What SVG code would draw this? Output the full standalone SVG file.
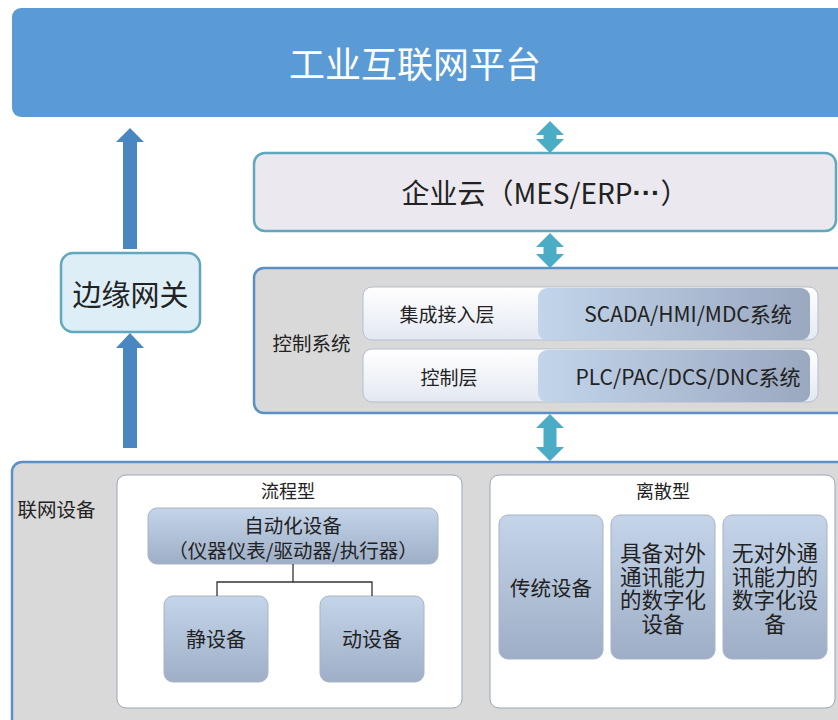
<svg xmlns="http://www.w3.org/2000/svg" width="838" height="720" viewBox="0 0 838 720">
<defs>
<linearGradient id="gBox" x1="0" y1="0" x2="0" y2="1">
<stop offset="0" stop-color="#c4d5ea"/>
<stop offset="1" stop-color="#9eaec6"/>
</linearGradient>
<linearGradient id="gRow" x1="0" y1="0" x2="0" y2="1">
<stop offset="0" stop-color="#ffffff"/>
<stop offset="1" stop-color="#e3e8f1"/>
</linearGradient>
<linearGradient id="gRight" x1="0" y1="0" x2="1" y2="0">
<stop offset="0" stop-color="#c2d5eb"/>
<stop offset="1" stop-color="#9aa8c0"/>
</linearGradient>
<style>
text{font-family:"Noto Sans CJK SC","Microsoft YaHei","Liberation Sans",sans-serif;fill:#222;text-anchor:middle;dominant-baseline:central}
.dev{fill:url(#gBox);stroke:#a9b4c4;stroke-width:1}
.panel{fill:#ffffff;stroke:#9aa7b8;stroke-width:1}
.group{fill:#d9d9d9;stroke:#5b8fc5;stroke-width:2.5}
.row{fill:url(#gRow);stroke:#b5bfcd;stroke-width:1}
.rpart{fill:url(#gRight)}
.bi{fill:#4bacc6}
.up{fill:#4a86c0}
</style>
</defs>

<g id="platform">
<rect x="12" y="8" width="840" height="109" rx="9" fill="#5b9bd5"/>
<text x="415" y="62" font-size="36" style="fill:#ffffff">工业互联网平台</text>
</g>

<g id="edge-gateway">
<rect x="61" y="253" width="139" height="79" rx="12" fill="#ddeef6" stroke="#5fa8bd" stroke-width="2.5"/>
<text x="130.5" y="293" font-size="29">边缘网关</text>
</g>

<g id="enterprise-cloud">
<rect x="254" y="153" width="582" height="78" rx="11" fill="#ebe9ef" stroke="#5fa8bd" stroke-width="2.5"/>
<text x="545" y="192" font-size="28">企业云（MES/ERP<tspan font-family="Liberation Sans" font-weight="bold">···</tspan>）</text>
</g>

<g id="control-system">
<rect x="254" y="268" width="600" height="145" rx="10" class="group"/>
<text x="311.5" y="342" font-size="19.5">控制系统</text>
<g id="integration-layer">
<rect x="363" y="287" width="455" height="53" rx="9" class="row"/>
<rect x="538" y="288" width="272" height="52" rx="9" class="rpart"/>
<text x="447" y="313" font-size="19">集成接入层</text>
<text x="688" y="313" font-size="21">SCADA/HMI/MDC系统</text>
</g>
<g id="control-layer">
<rect x="363" y="349" width="455" height="53" rx="9" class="row"/>
<rect x="538" y="350" width="272" height="52" rx="9" class="rpart"/>
<text x="449" y="376" font-size="19">控制层</text>
<text x="688" y="376" font-size="21">PLC/PAC/DCS/DNC系统</text>
</g>
</g>

<g id="networked-devices">
<rect x="12" y="462" width="840" height="270" rx="10" class="group"/>
<text x="56.5" y="508" font-size="19.5">联网设备</text>
</g>

<g id="process-type">
<rect x="117" y="475" width="345" height="233" rx="9" class="panel"/>
<text x="288" y="490" font-size="18">流程型</text>
</g>
<g id="automation">
<rect x="148" y="508" width="290" height="56" rx="9" class="dev"/>
<text x="293" y="524" font-size="19.5">自动化设备<tspan x="293" dy="25">（仪器仪表/驱动器/执行器）</tspan></text>
</g>
<g id="static-device">
<rect x="164" y="596" width="104" height="86" rx="9" class="dev"/>
<text x="216" y="638" font-size="20">静设备</text>
</g>
<g id="dynamic-device">
<rect x="320" y="596" width="104" height="86" rx="9" class="dev"/>
<text x="372" y="638" font-size="20">动设备</text>
</g>

<g id="discrete-type">
<rect x="490" y="475" width="345" height="233" rx="9" class="panel"/>
<text x="663" y="490" font-size="18">离散型</text>
</g>
<g id="traditional">
<rect x="499" y="515" width="104" height="144" rx="9" class="dev"/>
<text x="551" y="587" font-size="20.5">传统设备</text>
</g>
<g id="digital-comm">
<rect x="611" y="515" width="104" height="144" rx="9" class="dev"/>
<text x="663" y="551" font-size="21.5">具备对外<tspan x="663" dy="23.7">通讯能力</tspan><tspan x="663" dy="23.7">的数字化</tspan><tspan x="663" dy="23.7">设备</tspan></text>
</g>
<g id="digital-nocomm">
<rect x="723" y="515" width="104" height="144" rx="9" class="dev"/>
<text x="775" y="551" font-size="21.5">无对外通<tspan x="775" dy="23.7">讯能力的</tspan><tspan x="775" dy="23.7">数字化设</tspan><tspan x="775" dy="23.7">备</tspan></text>
</g>

<g id="connectors">
<path d="M550,121 L564,135 L556.5,135 L556.5,139 L564,139 L550,153 L536,139 L543.5,139 L543.5,135 L536,135 Z" class="bi"/>
<path d="M550,233 L564,247 L556.5,247 L556.5,254 L564,254 L550,268 L536,254 L543.5,254 L543.5,247 L536,247 Z" class="bi"/>
<path d="M550,414 L564,428 L556.5,428 L556.5,447 L564,447 L550,461 L536,447 L543.5,447 L543.5,428 L536,428 Z" class="bi"/>
<path d="M130,128 L144,142 L137,142 L137,249 L123,249 L123,142 L116,142 Z" class="up"/>
<path d="M130,333 L144,348 L137,348 L137,448 L123,448 L123,348 L116,348 Z" class="up"/>
<path d="M293,564 V582 M217,596 V582 H372 V596" fill="none" stroke="#333" stroke-width="1.3"/>
</g>
</svg>
